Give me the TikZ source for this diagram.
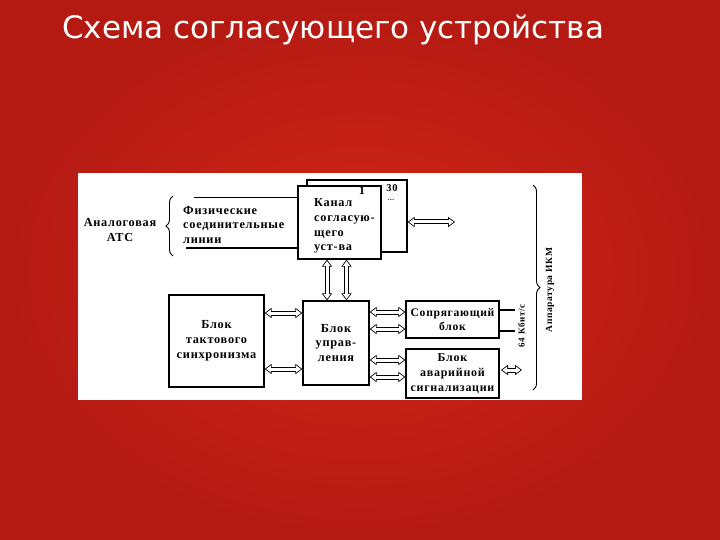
\documentclass[tikz,border=0pt]{standalone}
\usepackage{fontspec}
\setmainfont{Liberation Serif}
\newfontfamily\titlefont{DejaVu Sans}
\newfontfamily\dfont{Liberation Serif}[LetterSpace=6]
\usetikzlibrary{arrows.meta,decorations.pathreplacing,calc}
\definecolor{bgin}{RGB}{212,38,26}
\definecolor{bgout}{RGB}{180,26,18}
\tikzset{
  blk/.style={draw, line width=1.3pt, fill=white, inner sep=0pt},
  dtxt/.style={font=\dfont\bfseries\fontsize{12.3}{14.8}\selectfont, align=center, inner sep=0pt},
  dar/.style={draw=black, line width=5pt,
    {Triangle[length=7pt,width=10pt]}-{Triangle[length=7pt,width=10pt]},
    postaction={draw=white, line width=3pt, shorten <=1.4pt, shorten >=1.4pt,
      {Triangle[length=4.8pt,width=6.8pt]}-{Triangle[length=4.8pt,width=6.8pt]}}},
  wire/.style={draw, line width=1.1pt},
  brc/.style={draw, line width=0.9pt, decorate, decoration={brace, amplitude=7pt}}
}
\begin{document}
\begin{tikzpicture}[x=1pt,y=-1pt]
\useasboundingbox (0,0) rectangle (720,540);
\shade[inner color=bgin, outer color=bgout] (0,0) rectangle (720,540);
\node[anchor=base west, text=white, inner sep=0pt, font=\titlefont\fontsize{31}{36}\selectfont] (title) at (62,39) {Схема согласующего устройства};
% panel
\fill[white] (78,173) rectangle (582,400);
% channel boxes
\node[blk, minimum width=100pt, minimum height=72pt] (back) at (357,216) {};
\node[blk, minimum width=83pt, minimum height=73pt] (chan) at (339.5,222.5) {};
\node[dtxt, anchor=west, align=left] (chantxt) at (314,226) {Канал\\согласую-\\щего\\уст-ва};
\node[dtxt] (n1) at (362,190) {1};
\node[dtxt, font=\dfont\bfseries\fontsize{10.5}{12}\selectfont] (n30) at (392,188) {30};
\node[dtxt, font=\dfont\bfseries\fontsize{7}{8}\selectfont] (ndots) at (391,200) {...};
% other blocks
\node[blk, minimum width=66pt, minimum height=84pt, dtxt] (ctrl) at (336,343) {Блок\\управ-\\ления};
\node[blk, minimum width=93pt, minimum height=37pt, dtxt, font=\dfont\bfseries\fontsize{11.6}{14.2}\selectfont] (sopr) at (452.5,319.5) {Сопрягающий\\блок};
\node[blk, minimum width=93pt, minimum height=49pt, dtxt, font=\dfont\bfseries\fontsize{12}{14.8}\selectfont] (alarm) at (452.5,373.5) {Блок\\аварийной\\сигнализации};
\node[blk, minimum width=95pt, minimum height=92pt, dtxt] (sync) at (216.5,341) {Блок\\тактового\\синхронизма};
% left texts
\node[dtxt] (atc) at (120,230) {Аналоговая\\АТС};
\node[dtxt, anchor=west, align=left] (phys) at (183,225) {Физические\\соединительные\\линии};
% physical lines
\coordinate (ft) at (194,197.5);
\coordinate (fb) at (186,248);
\draw[wire] (ft) -- (ft -| chan.west);
\draw[wire] (fb) -- (fb -| chan.west);
% left brace
\coordinate (lb1) at (173,256);
\coordinate (lb2) at (173,196);
\draw[brc] (lb1) -- (lb2);
% arrows
\coordinate (cend) at (455,222);
\draw[dar] (cend -| back.east) -- (cend);
\draw[dar] ([xshift=-9pt]ctrl.north) -- ([xshift=-9pt]ctrl.north |- chan.south);
\draw[dar] ([xshift=10.5pt]ctrl.north) -- ([xshift=10.5pt]ctrl.north |- chan.south);
\draw[dar] ([yshift=28pt]sync.east) -- ([yshift=28pt]sync.east -| ctrl.west);
\draw[dar] ([yshift=-28pt]sync.east) -- ([yshift=-28pt]sync.east -| ctrl.west);
\draw[dar] ([yshift=7.5pt]sopr.west) -- ([yshift=7.5pt]sopr.west -| ctrl.east);
\draw[dar] ([yshift=-9.5pt]sopr.west) -- ([yshift=-9.5pt]sopr.west -| ctrl.east);
\draw[dar] ([yshift=13.5pt]alarm.west) -- ([yshift=13.5pt]alarm.west -| ctrl.east);
\draw[dar] ([yshift=-3.5pt]alarm.west) -- ([yshift=-3.5pt]alarm.west -| ctrl.east);
\coordinate (aend) at (522,370);
\coordinate (astart) at (501,370);
\draw[dar] (astart) -- (aend);
% sopr lines
\coordinate (s1) at (515,310);
\coordinate (s2) at (515,331);
\draw[wire] (s1 -| sopr.east) -- (s1);
\draw[wire] (s2 -| sopr.east) -- (s2);
\node[dtxt, rotate=90, font=\dfont\bfseries\fontsize{9}{10}\selectfont] (kbit) at (521.5,326) {64 Кбит/с};
% right brace
\coordinate (rb1) at (533,185);
\coordinate (rb2) at (533,390);
\draw[brc] (rb1) -- (rb2);
\node[dtxt, rotate=90, font=\dfont\bfseries\fontsize{9.5}{11}\selectfont] (ikm) at (550,290) {Аппаратура ИКМ};
\end{tikzpicture}
\end{document}
